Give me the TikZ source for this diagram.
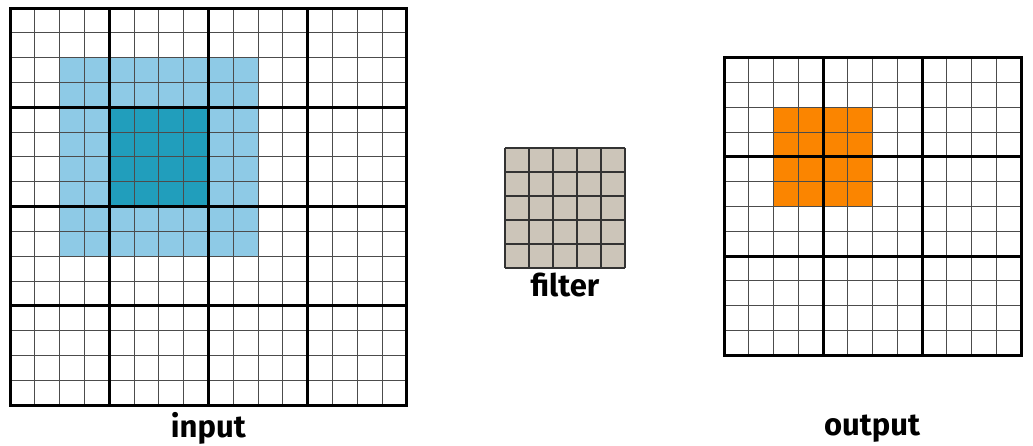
\documentclass[tikz,border=0pt]{standalone}
\usepackage{fontspec}
\setmainfont{Fira Sans}
\usepackage{xcolor}
\usepackage{tikz}
\usetikzlibrary{positioning,calc}
\definecolor{cnlight}{HTML}{8ECAE6}
\definecolor{cndark}{HTML}{219EBC}
\definecolor{cnorange}{HTML}{FB8500}
\definecolor{cnfilter}{HTML}{CCC5B9}

\begin{document}
\begin{tikzpicture}[
  x=0.5pt, y=0.5pt,
  thinline/.style={draw=black!70, line width=0.5pt},
  thickline/.style={draw=black, line width=1.5pt, line cap=rect},
  gridlabel/.style={font=\bfseries\fontsize{15.5}{18}\selectfont, text=black},
]
\useasboundingbox (0,0) rectangle (1033,445);
% input
\def\cs{24.8}
\begin{scope}[shift={(10,40)}]
  \fill[cnlight] (2*\cs,6*\cs) rectangle (10*\cs,14*\cs);
  \fill[cndark]  (4*\cs,8*\cs) rectangle (8*\cs,12*\cs);
  \foreach \i in {0,...,16} {
    \draw[thinline] (\i*\cs,0) -- (\i*\cs,16*\cs);
    \draw[thinline] (0,\i*\cs) -- (16*\cs,\i*\cs);
  }
  \foreach \i in {0,4,...,16} {
    \draw[thickline] (\i*\cs,0) -- (\i*\cs,16*\cs);
    \draw[thickline] (0,\i*\cs) -- (16*\cs,\i*\cs);
  }
  \coordinate (inbot) at (8*\cs,0);
\end{scope}
\node[gridlabel, below=0pt] (inlabel) at (inbot) {input};
% filter
\def\fs{24}
\begin{scope}[shift={(505,177)}]
  \fill[cnfilter] (0,0) rectangle (5*\fs,5*\fs);
  \foreach \i in {0,...,5} {
    \draw[draw=black!80, line width=0.6pt] (\i*\fs,0) -- (\i*\fs,5*\fs);
    \draw[draw=black!80, line width=0.6pt] (0,\i*\fs) -- (5*\fs,\i*\fs);
  }
  \coordinate (filbot) at (2.5*\fs,0);
\end{scope}
\node[gridlabel, below=-1pt] (filterlabel) at (filbot) {filter};
% output
\def\os{24.75}
\begin{scope}[shift={(724,90)}]
  \fill[cnorange] (2*\os,6*\os) rectangle (6*\os,10*\os);
  \foreach \i in {0,...,12} {
    \draw[thinline] (\i*\os,0) -- (\i*\os,12*\os);
    \draw[thinline] (0,\i*\os) -- (12*\os,\i*\os);
  }
  \foreach \i in {0,4,...,12} {
    \draw[thickline] (\i*\os,0) -- (\i*\os,12*\os);
    \draw[thickline] (0,\i*\os) -- (12*\os,\i*\os);
  }
\end{scope}
\node[gridlabel] (outlabel) at (872,16) {output};
\end{tikzpicture}
\end{document}
